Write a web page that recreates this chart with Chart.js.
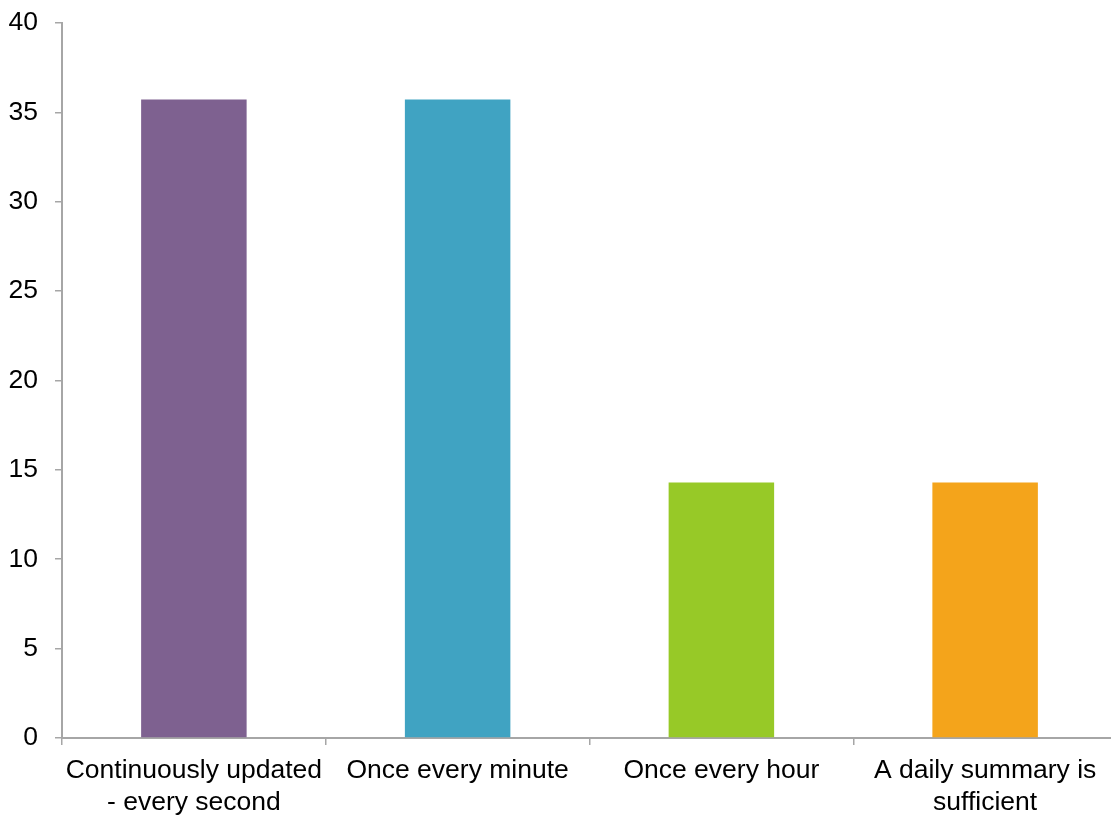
<!DOCTYPE html>
<html>
<head>
<meta charset="utf-8">
<script src="https://cdn.jsdelivr.net/npm/chart.js@4/dist/chart.umd.min.js"></script>
<style>
  html, body { margin: 0; padding: 0; background: #fff; overflow: hidden; }
  #wrap { width: 1111px; height: 817px; overflow: hidden; }
  #freq { margin-top: -10px; }
</style>
</head>
<body>
<div id="wrap"><canvas id="freq" width="1118" height="827"></canvas></div>
<script>
const categories = [
    ['Continuously updated', '- every second'],
    'Once every minute',
    'Once every hour',
    ['A daily summary is', 'sufficient']
];
const responses = [35.71, 35.71, 14.29, 14.29];
const bar_colors = ['#7E6190', '#40A3C2', '#97C927', '#F4A41B'];
const y_max = 40;
const y_step = 5;

window.addEventListener('load', () => {
    const axis_color = '#A6A6A6';
    const label_font = { family: '"Liberation Sans", Arial, sans-serif', size: 26.5, lineHeight: 1.2 };

    new Chart(document.getElementById('freq'), {
        type: 'bar',
        data: {
            labels: categories,
            datasets: [{
                data: responses,
                backgroundColor: bar_colors,
                borderWidth: 0,
                categoryPercentage: 1,
                barPercentage: 0.4
            }]
        },
        options: {
            responsive: false,
            animation: false,
            devicePixelRatio: 1,
            layout: { padding: { top: 10, right: 1, left: 0, bottom: 0 } },
            plugins: { legend: { display: false }, tooltip: { enabled: false } },
            scales: {
                x: {
                    grid: { display: true, drawOnChartArea: false, offset: true, tickLength: 7, color: axis_color, lineWidth: 1.5 },
                    border: { color: axis_color, width: 2 },
                    ticks: { color: '#000', font: label_font, padding: 10, maxRotation: 0, autoSkip: false },
                    afterFit: (scale) => { scale.height = 79; }
                },
                y: {
                    min: 0,
                    max: y_max,
                    grid: { display: true, drawOnChartArea: false, tickLength: 7, color: axis_color, lineWidth: 1.5 },
                    border: { color: axis_color, width: 2 },
                    ticks: { stepSize: y_step, color: '#000', font: label_font, padding: 17 },
                    afterFit: (scale) => { scale.width = 62; }
                }
            }
        }
    });
});
</script>
</body>
</html>
